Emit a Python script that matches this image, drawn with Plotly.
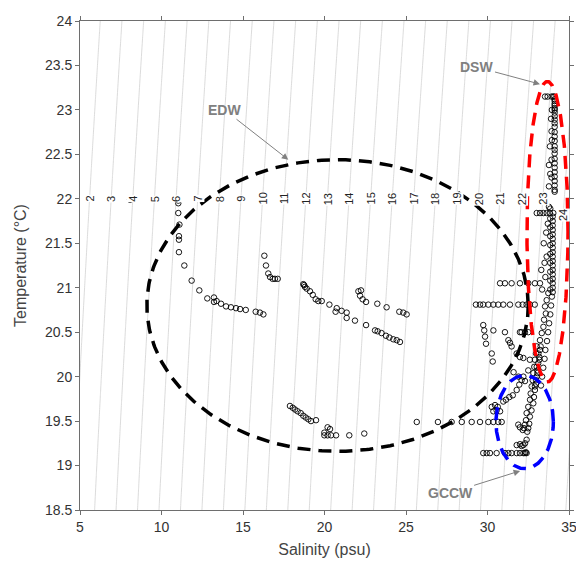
import numpy as np
import plotly.graph_objects as go

# ---------------- data ----------------
# EDW-region casts (salinity, temperature)
edw_S = [8.07, 11.03, 11.03, 11.03, 11.10, 11.07, 11.07, 11.07, 11.40, 11.85, 12.32, 12.81, 13.22, 13.22,
         13.38, 13.65, 13.96, 14.26, 14.57, 14.82, 15.17, 15.78, 16.04, 16.25,
         16.31, 16.41, 16.55, 16.66, 16.82, 16.96, 17.13,
         18.70, 18.75, 18.80, 18.91, 19.11, 19.28, 19.46, 19.62, 19.83, 20.30, 20.75, 20.68, 21.05, 21.36,
         21.36, 21.87, 22.55, 23.10, 23.26, 23.50, 23.77, 23.98, 24.22, 24.43, 24.63,
         22.08, 22.24, 22.18, 22.34, 22.55, 23.24, 23.81, 24.59, 24.83, 25.04,
         17.88, 18.05, 18.19, 18.35, 18.54, 18.70, 18.85, 19.01, 19.17, 19.48, 20.19, 20.34, 19.99, 20.19,
         19.99, 20.40, 20.71, 21.52, 22.44]
edw_T = [21.99, 21.98, 21.95, 21.84, 21.71, 21.58, 21.54, 21.40, 21.25, 21.08, 20.97, 20.88, 20.89, 20.84,
         20.85, 20.82, 20.79, 20.78, 20.77, 20.76, 20.75, 20.73, 20.72, 20.70,
         21.36, 21.25, 21.16, 21.12, 21.10, 21.10, 21.10,
         21.04, 21.03, 21.01, 20.99, 20.96, 20.92, 20.87, 20.85, 20.85, 20.81, 20.77, 20.73, 20.74, 20.72,
         20.66, 20.63, 20.58, 20.52, 20.51, 20.49, 20.46, 20.44, 20.42, 20.41, 20.39,
         20.96, 20.97, 20.91, 20.87, 20.84, 20.82, 20.78, 20.73, 20.72, 20.70,
         19.67, 19.65, 19.63, 19.61, 19.59, 19.56, 19.54, 19.52, 19.50, 19.51, 19.43, 19.41, 19.37, 19.34,
         19.34, 19.34, 19.34, 19.34, 19.36]

# horizontal rows of stations
row_S = [25.66, 26.96, 27.80, 28.42, 29.03, 29.54, 30.05, 30.36, 30.66, 30.87,
         29.74, 29.95, 30.15, 30.56, 31.07, 31.28, 31.48, 31.79, 31.99, 32.20, 32.30, 32.35, 32.40,
         30.77, 31.07, 31.48, 31.99, 32.50, 32.91, 33.22,
         29.29, 29.54, 29.74, 30.05, 30.36, 30.66, 30.97, 31.38, 31.89, 32.16, 32.40, 32.60, 32.90,
         30.36, 31.07, 31.99, 32.09, 32.30, 32.50]
row_T = [19.49, 19.49, 19.49, 19.49, 19.49, 19.49, 19.49, 19.49, 19.49, 19.49,
         19.14, 19.14, 19.14, 19.14, 19.14, 19.14, 19.14, 19.14, 19.14, 19.14, 19.14, 19.15, 19.14,
         21.05, 21.05, 21.05, 21.05, 21.05, 21.05, 21.05,
         20.81, 20.81, 20.81, 20.81, 20.81, 20.81, 20.81, 20.81, 20.81, 20.81, 20.81, 20.81, 20.81,
         20.52, 20.50, 20.50, 20.50, 20.50, 20.50]

# DSW casts (top right)
dsw_S = [33.53, 33.69, 33.93, 34.03, 34.10, 34.12, 34.12, 34.12, 34.12, 34.12, 34.12, 34.12, 34.12, 34.12,
         34.12, 34.12, 34.12, 34.12, 34.12, 34.12, 34.12, 34.12, 34.12, 34.12, 34.12, 34.12, 34.12, 34.12,
         34.12, 34.12, 34.12,
         33.93, 33.83, 33.93, 33.77, 33.93, 33.77, 33.95, 33.90, 33.95, 33.85]
dsw_T = [23.15, 23.15, 23.15, 23.15, 23.15, 23.12, 23.10, 23.07, 23.05, 23.02, 23.00, 22.97, 22.93, 22.89,
         22.85, 22.81, 22.75, 22.70, 22.65, 22.59, 22.55, 22.51, 22.45, 22.40, 22.35, 22.30, 22.25, 22.20,
         22.15, 22.10, 22.08,
         22.76, 22.59, 22.44, 22.38, 22.24, 22.14, 22.66, 22.90, 23.00, 22.28]

# shelf casts (right column)
col_S = [33.77, 33.85, 33.02, 33.22, 33.43, 33.63, 33.83, 34.04,
         34.00, 34.00, 34.00, 34.00, 34.00, 34.00, 34.00, 34.00, 34.00, 34.00, 34.00, 34.00, 34.00, 34.00,
         34.00, 34.00, 34.00, 34.00,
         33.85, 33.85, 33.85, 33.85, 33.85, 33.85, 33.85, 33.85, 33.85,
         33.45, 33.63, 33.30, 33.55, 33.35, 33.60, 33.70, 33.50,
         33.73, 33.63, 33.53, 33.58, 33.47, 33.43, 33.33, 33.22, 33.26, 33.12, 33.18, 33.02, 33.06, 32.98,
         32.91,
         33.95, 33.90, 33.85, 33.78, 33.72, 33.65, 33.55, 33.50, 33.42, 33.35, 33.28,
         33.02, 32.98, 32.91, 32.87, 32.81, 32.77, 32.71, 32.65, 32.61, 32.50, 32.40, 32.36, 32.30, 32.24,
         33.22, 33.18, 33.11, 33.07, 33.01, 32.97, 32.91, 32.85, 32.81, 32.70, 32.60, 32.56, 32.50, 32.44]
col_T = [21.91, 21.89, 21.84, 21.84, 21.84, 21.84, 21.84, 21.84,
         21.80, 21.75, 21.70, 21.65, 21.60, 21.55, 21.50, 21.45, 21.40, 21.35, 21.30, 21.25, 21.20, 21.15,
         21.10, 21.05, 21.00, 20.95,
         21.78, 21.68, 21.58, 21.48, 21.38, 21.28, 21.18, 21.08, 20.98,
         21.50, 21.35, 21.20, 21.12, 20.98, 21.62, 21.72, 21.28,
         20.94, 20.86, 20.79, 20.71, 20.64, 20.56, 20.49, 20.41, 20.34, 20.26, 20.19, 20.11, 20.04, 19.96,
         19.89,
         20.90, 20.80, 20.70, 20.60, 20.50, 20.40, 20.30, 20.20, 20.10, 20.00, 19.90,
         20.34, 20.26, 20.19, 20.11, 20.04, 19.96, 19.89, 19.81, 19.74, 19.66, 19.59, 19.51, 19.46, 19.42,
         20.30, 20.22, 20.15, 20.07, 20.00, 19.92, 19.85, 19.77, 19.70, 19.62, 19.55, 19.47, 19.42, 19.38]

# GCCW / mixed casts (lower right)
gccw_S = [29.74, 29.80, 29.85, 29.91, 30.26, 30.32, 31.28, 31.38, 31.48,
          31.79, 31.99, 32.20, 32.60, 32.50, 31.60, 31.90, 32.30,
          30.97, 31.13, 31.34, 31.55, 31.79, 31.95, 32.09, 32.20,
          30.26, 30.46, 30.63, 30.36, 30.77, 30.56,
          31.89, 31.99, 32.16, 31.79, 31.99, 32.09, 32.20, 32.30, 32.40]
gccw_T = [20.58, 20.52, 20.45, 20.37, 20.26, 20.17, 20.41, 20.38, 20.34,
          20.26, 20.22, 20.21, 20.19, 20.07, 20.05, 20.00, 19.95,
          19.72, 19.74, 19.77, 19.79, 19.85, 19.91, 19.96, 20.00,
          19.66, 19.68, 19.66, 19.61, 19.61, 19.62,
          19.46, 19.43, 19.40, 19.23, 19.24, 19.22, 19.23, 19.25, 19.29]

# water-mass ellipses: name, centre S, centre T, half-width (psu), half-height (degC), colour
ell_names = ["EDW", "DSW", "GCCW"]
ell_cS = [20.80, 33.68, 32.28]
ell_cT = [20.80, 21.63, 19.49]
ell_aS = [11.70, 1.26, 1.76]
ell_bT = [1.64, 1.69, 0.525]
ell_col = ["#000000", "#ff0000", "#0000ff"]

sigma_levels = list(range(2, 25))


# ---------------- sigma-t (UNESCO EOS-80, p = 0) ----------------
def sigma_t(S, T):
    rw = (999.842594 + 6.793952e-2 * T - 9.095290e-3 * T**2 + 1.001685e-4 * T**3
          - 1.120083e-6 * T**4 + 6.536332e-9 * T**5)
    A = 8.24493e-1 - 4.0899e-3 * T + 7.6438e-5 * T**2 - 8.2467e-7 * T**3 + 5.3875e-9 * T**4
    B = -5.72466e-3 + 1.0227e-4 * T - 1.6546e-6 * T**2
    C = 4.8314e-4
    return rw + A * S + B * S**1.5 + C * S**2 - 1000.0


gS = np.linspace(4.0, 36.0, 641)
gT = np.linspace(18.3, 24.2, 119)
SS, TT = np.meshgrid(gS, gT)
Z = sigma_t(SS, TT)

fig = go.Figure()
fig.add_trace(go.Contour(
    x=gS, y=gT, z=Z,
    contours=dict(start=0, end=27, size=1, coloring="lines", showlabels=False),
    colorscale=[[0, "#d2d2d2"], [1, "#d2d2d2"]],
    line=dict(width=0.8), showscale=False, hoverinfo="skip"))

mk = dict(symbol="circle-open", size=5.5, color="black", line=dict(width=0.9, color="black"))
for S_, T_ in [(edw_S, edw_T), (row_S, row_T), (dsw_S, dsw_T), (col_S, col_T), (gccw_S, gccw_T)]:
    fig.add_trace(go.Scatter(x=S_, y=T_, mode="markers", marker=mk, showlegend=False, hoverinfo="skip"))

th = np.linspace(0, 2 * np.pi, 400)
for i in range(len(ell_names)):
    fig.add_trace(go.Scatter(
        x=ell_cS[i] + ell_aS[i] * np.cos(th), y=ell_cT[i] + ell_bT[i] * np.sin(th),
        mode="lines", line=dict(color=ell_col[i], width=3.5, dash="13px,8px"),
        showlegend=False, hoverinfo="skip"))

# contour labels placed along T = 22 (24 slightly lower)
fineS = np.linspace(4.0, 36.0, 6401)
annots = []
for k in sigma_levels:
    Tl = 21.82 if k == 24 else 22.0
    Sl = float(np.interp(k, sigma_t(fineS, Tl), fineS))
    annots.append(dict(x=Sl, y=Tl, text=str(k), textangle=-90, showarrow=False,
                       font=dict(family="Liberation Sans, Arial", size=11, color="#222222"),
                       bgcolor="white", borderpad=0, xanchor="center", yanchor="middle"))

lab_font = dict(family="Liberation Sans, Arial", size=14, color="#808080")
annots += [
    dict(x=17.78, y=22.44, ax=-64, ay=-50, text="<b>EDW</b>", showarrow=True, arrowhead=2,
         arrowsize=1.3, arrowwidth=1, arrowcolor="#808080", font=lab_font),
    dict(x=33.22, y=23.29, ax=-63, ay=-17, text="<b>DSW</b>", showarrow=True, arrowhead=2,
         arrowsize=1.3, arrowwidth=1, arrowcolor="#808080", font=lab_font),
    dict(x=32.00, y=18.94, ax=-70, ay=22, text="<b>GCCW</b>", showarrow=True, arrowhead=2,
         arrowsize=1.3, arrowwidth=1, arrowcolor="#808080", font=lab_font),
]

axis_common = dict(showgrid=False, zeroline=False, showline=True, linecolor="#6e6e6e", linewidth=1,
                   mirror="ticks", ticks="outside", ticklen=4, tickcolor="#6e6e6e", automargin=False,
                   ticklabeloverflow="allow",
                   tickfont=dict(family="Liberation Sans, Arial", size=14, color="#333333"))
fig.update_layout(
    width=576, height=562, margin=dict(l=80, r=7, t=21, b=52),
    paper_bgcolor="white", plot_bgcolor="white", showlegend=False,
    xaxis=dict(range=[5, 35], dtick=5, tick0=5,
               title=dict(text="Salinity (psu)", standoff=10,
                          font=dict(family="Liberation Sans, Arial", size=16, color="#444444")),
               **axis_common),
    yaxis=dict(range=[18.5, 24], dtick=0.5, tick0=18.5,
               title=dict(text="Temperature (°C)", standoff=14,
                          font=dict(family="Liberation Sans, Arial", size=16, color="#444444")),
               **axis_common),
    annotations=annots,
)
fig.write_html("out.html")
